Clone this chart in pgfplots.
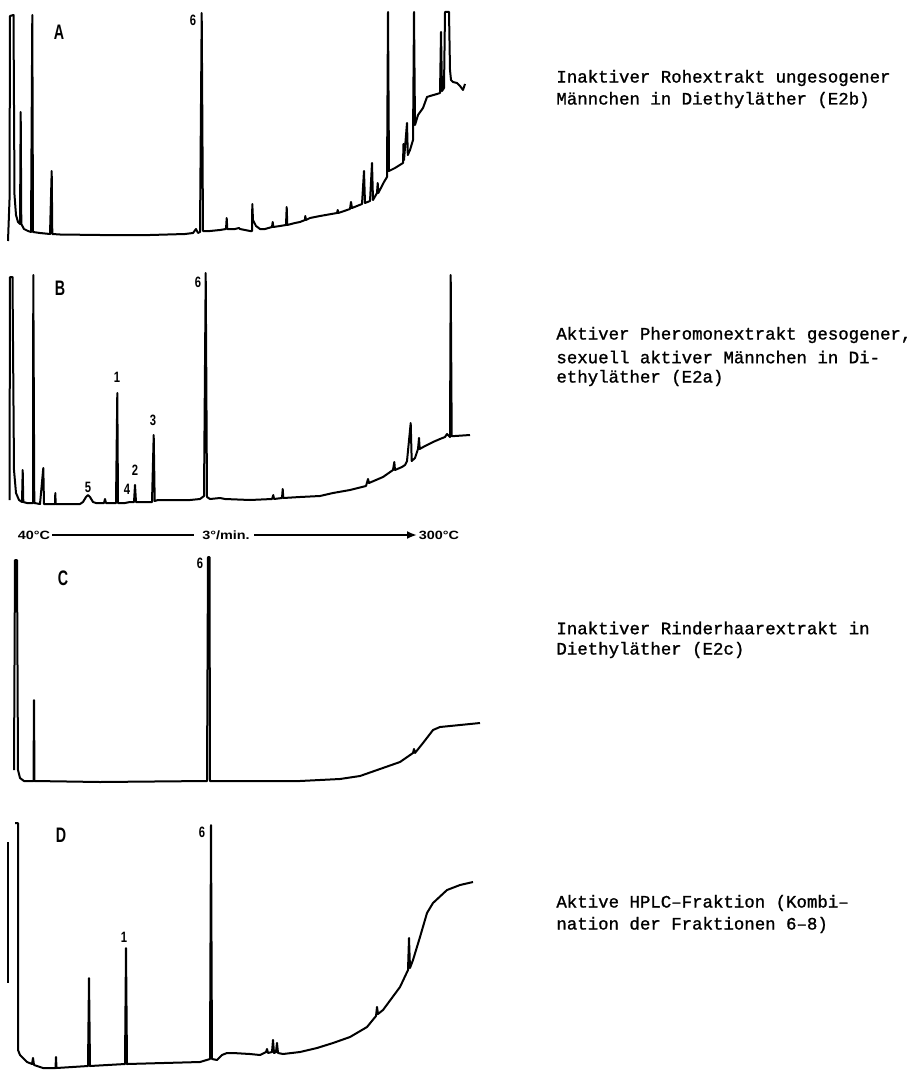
\documentclass[border=0pt]{standalone}
\usepackage{pgfplots}
\pgfplotsset{compat=1.18}
\usepackage{graphicx}
\usepackage{fontspec}
\setmainfont{Liberation Mono}
\newfontfamily\desc[FakeBold=1.2]{Liberation Mono}
\newfontfamily\labfont{Liberation Sans}
\usetikzlibrary{arrows.meta}

% panel letters, peak numbers and the temperature programme in a heavy sans
\newcommand{\panel}[1]{\scalebox{0.68}[1]{\labfont\bfseries\fontsize{10.5}{12}\selectfont #1}}
\newcommand{\pk}[1]{\scalebox{0.75}[1]{\labfont\bfseries\fontsize{7.5}{8}\selectfont #1}}
\newcommand{\tmp}[1]{\scalebox{1.2}[1]{\labfont\bfseries\fontsize{6}{7}\selectfont #1}}

\tikzset{trace/.style={black, line width=1pt, line join=round, mark=none}}

\begin{document}
\begin{tikzpicture}
\useasboundingbox (0,0) rectangle (458.5pt,535pt);
\begin{axis}[
    at={(0,0)}, anchor=south west,
    scale only axis,
    width=458.5pt, height=535pt,
    xmin=0, xmax=917, ymin=0, ymax=1070,
    y dir=reverse,
    hide axis,
    clip=false,
]
% ---- A
\addplot[trace] coordinates {
(8,241) (9.5,200) (10,16) (13.5,15) (14.5,195) (16,215) (18,222) (20,224) (20.7,112) (21.3,224)
(24,229) (28,231) (31,232) (32.3,15) (33,232) (40,233) (50,234) (51.7,171) (52.3,234)
(60,234.5) (100,235) (150,235) (185,234) (193,233) (196,229) (198,233) (200,232) (201.7,13)
(203,231) (210,231) (220,230) (226,229) (226.7,218) (227.3,229) (235,229) (239,228) (240,229)
(250,231) (252,231) (252.3,204) (253,220) (256,226) (260,229) (265,229) (272,227) (272.7,222)
(273.3,227) (280,226) (286,225) (286.7,207) (287.3,225) (295,223) (300,222) (305,220)
(305.3,216) (306,220) (310,218) (320,216) (337,213) (337.7,210) (338.3,213) (350,209)
(351,202) (352,208) (362,204) (364,171) (365,203) (370,201) (372,163) (373,200) (377,193)
(377.7,183) (378.3,193) (384,182) (387,177) (388,12) (389,171) (395,168) (403,163)
(403.5,144) (404,160) (407,123) (407.8,155) (410,150) (413,140) (414,12) (415,125)
(418,115) (423,108) (427,97) (430,96) (437,94) (440,93) (441,32) (442,91) (444,88)
(445,12) (449,12) (450,70) (451,80) (453,82) (457,83) (460,86) (463,90) (465,84)
};
% ---- B
\addplot[trace] coordinates {
(9.5,500) (10,277) (12.5,277) (14,470) (16,493) (19,500) (22,502) (22.7,470) (23.3,502)
(27,503) (33,503) (33.3,275) (34.3,503) (40,504) (43.3,468) (44,504) (50,504) (55,504)
(55.3,493) (55.7,504) (80,504) (83,502) (86,497) (88,495) (90,497) (93,502) (96,503)
(104,503) (105,499) (106,503) (116,503) (117.3,393) (118,503) (125,503) (130,502) (134,502)
(135,485) (136,502) (140,502) (152,502) (153.7,435) (154.7,501) (158,500) (170,500)
(190,500) (200,499) (204,496) (205.7,273) (207,497) (210,499) (220,498) (225,499) (250,500)
(272,499) (273.3,495) (274,499) (282,498) (282.7,489) (283.3,498) (300,497) (320,496)
(333,493) (350,490) (366,486) (368,479) (369,483) (383,477) (393,470) (394.3,462) (395,470)
(402,467) (405,465) (407,461) (410.7,423) (411.7,461) (415,458) (418,449) (419,438)
(419.7,449) (425,446) (433,442) (440,439) (445,437) (447,434) (449,436) (450,437)
(450.7,275) (451.7,436) (455,436) (470,435)
};
% ---- C
\addplot[trace] coordinates {
(14,770) (15,560) (17,560) (18,770) (20,778) (24,781) (33.5,781) (34,700) (34.5,781)
(100,782) (207,781) (208,557) (209.5,557) (210,781) (300,781) (340,779) (360,776)
(380,769) (400,762) (413,753) (414,749) (415,753) (423,743) (433,730) (440,727)
(460,725) (480,723)
};
% ---- D
\addplot[trace] coordinates {(8,842) (8,983)};
\addplot[trace] coordinates {
(15,823) (18,823) (18,1050) (20,1055) (27,1062) (32,1064) (33,1058) (34,1065) (43,1068)
(55.5,1068) (56,1057) (56.5,1068) (88,1066) (89,978) (90,1066) (125,1064) (126,948)
(127,1064) (200,1062) (210,1059) (211,825) (212,1059) (217,1060) (222,1055) (227,1053)
(233,1053) (250,1054) (260,1055) (266,1052) (267,1049) (268,1053) (272,1052) (273,1040)
(274,1053) (276,1052) (277,1043) (278,1053) (283,1054) (300,1052) (317,1048) (333,1043)
(350,1037) (367,1027) (376,1016) (377,1007) (378,1014) (383,1010) (400,987) (408,970)
(409,938) (410,968) (413,960) (420,937) (427,913) (433,903) (447,890) (460,885) (473,882)
};

% panel letters and peak numbers
\node at (axis cs:59,32) {\panel{A}};
\node at (axis cs:193,20) {\pk{6}};
\node at (axis cs:60,288) {\panel{B}};
\node at (axis cs:117,377) {\pk{1}};
\node at (axis cs:135,470) {\pk{2}};
\node at (axis cs:153,420) {\pk{3}};
\node at (axis cs:127,489) {\pk{4}};
\node at (axis cs:88,487) {\pk{5}};
\node at (axis cs:198,282) {\pk{6}};
\node at (axis cs:63,578) {\panel{C}};
\node at (axis cs:200,563) {\pk{6}};
\node at (axis cs:61,835) {\panel{D}};
\node at (axis cs:124,937) {\pk{1}};
\node at (axis cs:202,832) {\pk{6}};

% temperature programme
\node at (axis cs:34,535) {\tmp{40°C}};
\draw[line width=1.2pt] (axis cs:52,535) -- (axis cs:194,535);
\node at (axis cs:226,535) {\tmp{3°/min.}};
\draw[line width=1.2pt, -{Latex[length=5pt,width=4pt]}] (axis cs:254,535) -- (axis cs:417,535);
\node at (axis cs:439,535) {\tmp{300°C}};

% descriptions
\begin{scope}[every node/.style={anchor=west, inner sep=0pt, font=\desc\fontsize{8.7}{11}\selectfont}]
\node at (axis cs:556,78) {Inaktiver Rohextrakt ungesogener};
\node at (axis cs:556,100) {Männchen in Diethyläther (E2b)};
\node at (axis cs:556,335) {Aktiver Pheromonextrakt gesogener,};
\node at (axis cs:556,357) {sexuell aktiver Männchen in Di-};
\node at (axis cs:556,378) {ethyläther (E2a)};
\node at (axis cs:556,628) {Inaktiver Rinderhaarextrakt in};
\node at (axis cs:556,650) {Diethyläther (E2c)};
\node at (axis cs:556,903) {Aktive HPLC–Fraktion (Kombi–};
\node at (axis cs:556,925) {nation der Fraktionen 6–8)};
\end{scope}
\end{axis}
\end{tikzpicture}
\end{document}
